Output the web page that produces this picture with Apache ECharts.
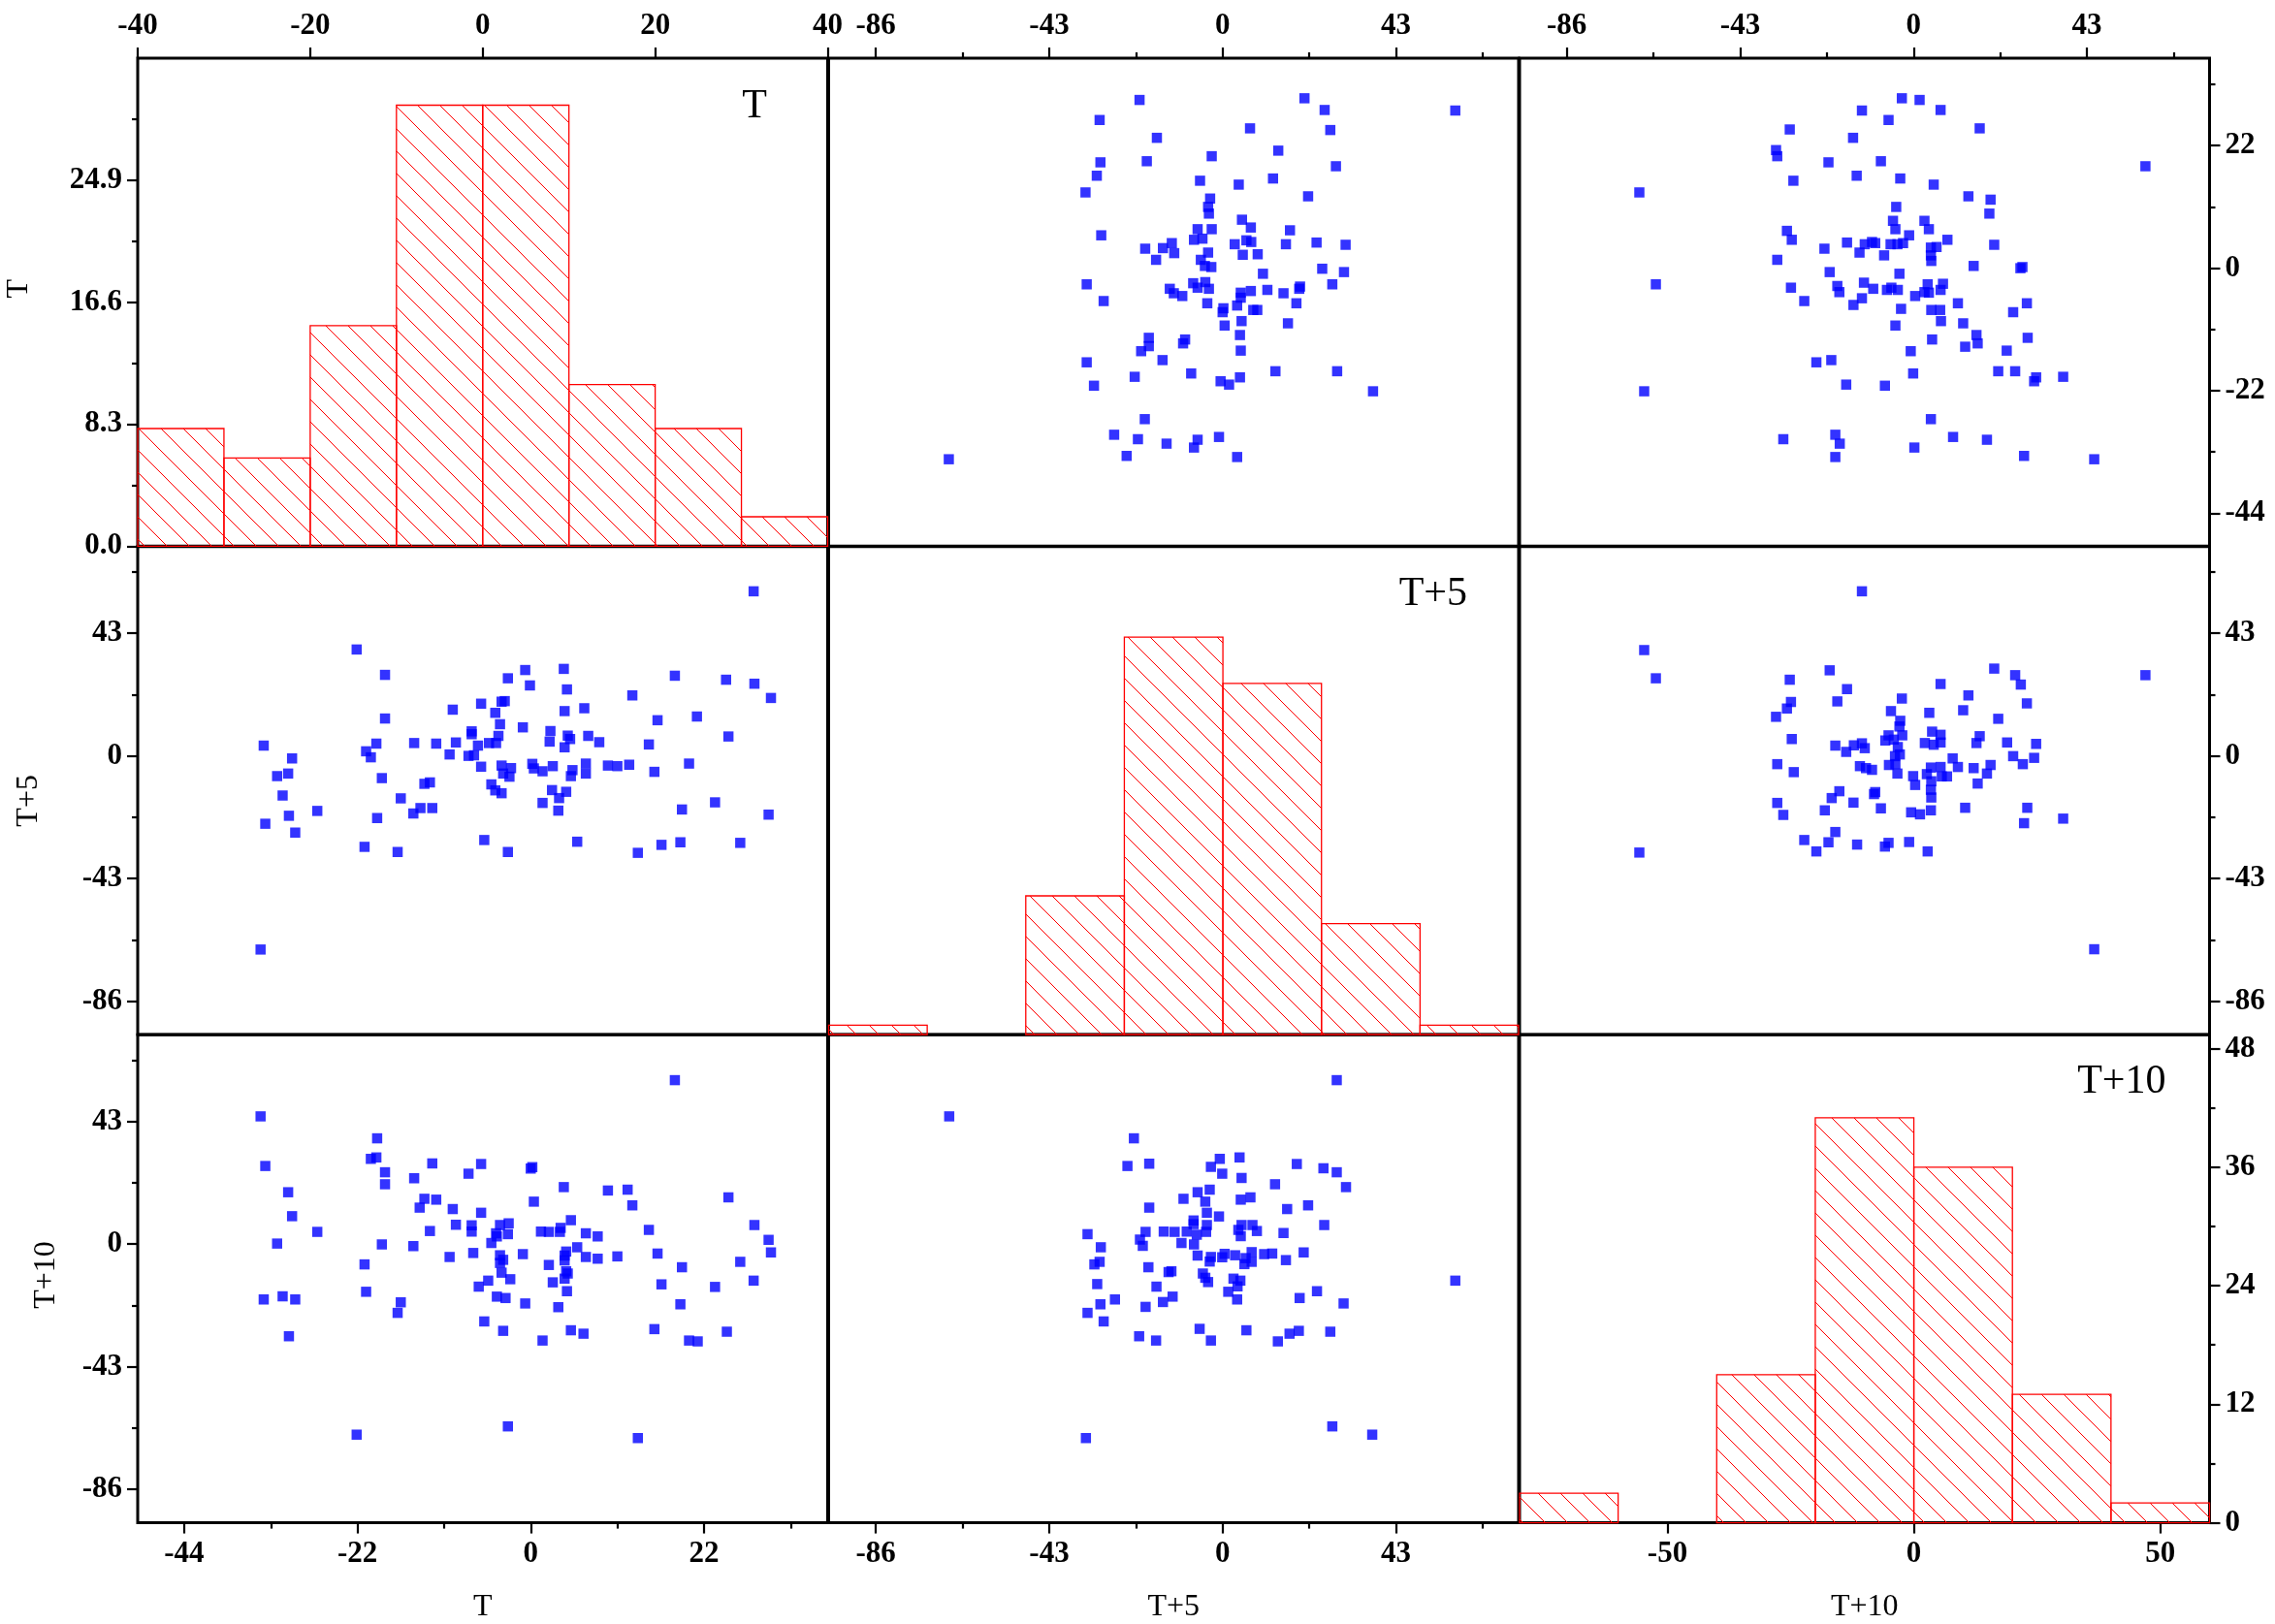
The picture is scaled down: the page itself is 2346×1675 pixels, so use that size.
<!DOCTYPE html>
<html>
<head>
<meta charset="utf-8">
<title>T / T+5 / T+10 scatter matrix</title>
<script src="https://cdn.jsdelivr.net/npm/echarts@6/dist/echarts.min.js"></script>
<style>
  html, body { margin: 0; padding: 0; background: #fff; }
  #main { width: 2346px; height: 1675px; }
</style>
</head>
<body>
<div id="main"></div>
<script>
var varNames = ['T', 'T+5', 'T+10'];

// histograms (bin edges + counts)
var binEdgesT = [-40, -30, -20, -10, 0, 10, 20, 30, 40];
var countsT = [8, 6, 15, 30, 30, 11, 8, 2];
var binEdgesT5 = [-80, -60, -40, -20, 0, 20, 40, 60];
var countsT5 = [1, 0, 15, 43, 38, 12, 1];
var binEdgesT10 = [-80, -60, -40, -20, 0, 20, 40, 60];
var countsT10 = [3, 0, 15, 41, 36, 13, 2];

// scatter pairs [x, y]
// x = T+5, y = T
var pairsT5T = [
  [-20.6,30.2],[20.3,30.5],[25.3,28.4],[57.7,28.3],[-30.5,26.6],[6.8,25.1],[26.7,24.8],[-16.3,23.4],
  [13.8,21.1],[-2.7,20.1],[-30.3,19.0],[-18.8,19.2],[28.1,18.3],[-31.2,16.6],[-5.6,15.7],[12.5,16.1],
  [4.0,15.0],[-34.0,13.6],[21.2,12.9],[-3.1,12.5],[-3.6,11.0],[-3.4,9.8],[4.8,8.7],[7.0,7.3],
  [-6.2,7.0],[-2.7,7.0],[16.7,6.8],[-30.1,5.9],[-7.1,5.1],[-5.0,5.3],[3.0,4.3],[5.9,5.0],
  [7.1,4.7],[15.7,4.3],[23.3,4.6],[30.5,4.2],[-12.6,4.5],[-19.2,3.5],[-14.8,3.6],[-12.0,2.7],
  [-3.6,2.8],[5.0,2.4],[8.7,2.5],[-16.5,1.5],[-5.4,1.5],[-4.4,0.4],[-2.8,0.2],[10.0,-1.0],
  [24.7,-0.1],[30.1,-0.7],[-33.7,-2.9],[27.2,-2.9],[-7.3,-2.7],[-4.3,-2.5],[-6.2,-3.5],[-3.4,-3.7],
  [-13.1,-3.7],[-12.1,-4.5],[-10.0,-5.0],[4.5,-4.4],[7.0,-4.1],[11.1,-3.9],[15.1,-4.5],[19.2,-3.3],
  [19.0,-3.7],[-29.5,-5.9],[-3.8,-6.3],[4.5,-5.3],[3.6,-6.7],[18.3,-6.3],[0.2,-7.2],[0.0,-7.9],
  [7.6,-7.5],[8.6,-7.5],[0.5,-10.3],[4.7,-9.5],[16.2,-9.9],[4.3,-12.0],[-18.3,-12.5],[-18.3,-14.0],
  [-9.3,-12.8],[-9.8,-13.5],[-20.2,-14.9],[4.5,-14.8],[-33.7,-16.9],[-14.9,-16.5],[-7.8,-18.9],[13.1,-18.5],
  [28.4,-18.5],[-21.8,-19.5],[-0.5,-20.3],[1.6,-20.9],[4.3,-19.6],[-31.9,-21.1],[37.3,-22.1],[-19.3,-27.1],
  [-26.9,-29.9],[-21.0,-30.7],[-13.9,-31.5],[-6.2,-30.8],[-7.1,-32.2],[-0.9,-30.3],[-23.8,-33.7],[3.6,-33.9],
  [-67.9,-34.3]
];
// x = T+10, y = T
var pairsT10T = [
  [-2.9,30.5],[1.5,30.2],[-12.8,28.3],[6.7,28.4],[-6.2,26.6],[-30.7,24.9],[16.4,25.1],[-15.0,23.4],
  [-34.1,21.2],[-33.8,20.1],[-21.1,19.0],[-8.1,19.2],[57.5,18.3],[-14.1,16.6],[-3.3,16.1],[5.0,15.0],
  [-29.8,15.7],[-68.0,13.6],[13.6,12.9],[19.1,12.3],[-4.3,11.0],[18.8,9.8],[-5.1,8.5],[2.7,8.5],
  [-4.5,7.0],[3.8,7.0],[-31.4,6.7],[-30.2,5.1],[-1.1,5.9],[8.4,5.1],[-16.5,4.6],[-12.1,4.3],
  [-10.3,4.7],[-9.5,4.5],[-5.7,4.3],[-4.0,4.3],[-2.6,4.5],[20.0,4.2],[-22.1,3.5],[-13.4,2.8],
  [-7.3,2.3],[4.3,3.7],[5.7,3.8],[4.3,2.3],[4.4,1.3],[-33.8,1.5],[14.9,0.4],[26.5,0.0],
  [27.0,0.2],[-20.8,-0.7],[-3.5,-1.0],[-63.9,-2.9],[-30.4,-3.5],[-18.9,-3.2],[-18.4,-4.3],[-12.3,-2.6],
  [-10.0,-3.7],[-6.6,-3.9],[-5.5,-3.5],[-3.9,-3.9],[3.5,-2.9],[2.7,-4.3],[3.8,-4.4],[7.3,-2.8],
  [6.7,-3.9],[0.4,-5.0],[-27.1,-5.9],[-12.8,-5.4],[-14.9,-6.6],[11.0,-6.3],[28.1,-6.3],[-3.1,-7.3],
  [4.4,-7.5],[6.6,-7.5],[24.7,-7.9],[6.8,-9.5],[12.3,-9.9],[-4.5,-10.3],[15.6,-12.0],[4.6,-12.8],
  [15.9,-13.5],[12.8,-14.1],[28.3,-12.5],[23.1,-14.8],[-0.7,-14.9],[-24.1,-16.9],[-20.4,-16.5],[-0.1,-18.9],
  [21.0,-18.5],[25.2,-18.5],[29.9,-20.3],[30.4,-19.6],[37.1,-19.5],[-16.7,-20.9],[-7.1,-21.1],[-66.8,-22.1],
  [4.3,-27.1],[-32.3,-30.7],[-19.4,-29.9],[-18.3,-31.5],[9.8,-30.3],[18.2,-30.8],[0.2,-32.2],[-19.4,-33.9],
  [27.4,-33.7],[44.8,-34.3]
];
// x = T+10, y = T+5
var pairsT10T5 = [
  [-12.8,57.7],[-66.8,37.1],[-63.9,27.2],[-20.8,30.0],[20.0,30.6],[-30.7,26.7],[25.2,28.3],[26.6,25.0],
  [57.5,28.3],[6.7,25.2],[-16.5,23.4],[13.6,21.2],[-2.9,20.1],[-30.4,18.9],[-18.9,19.1],[28.1,18.4],
  [-31.4,16.6],[-34.1,13.7],[-5.6,15.7],[3.9,15.1],[12.3,16.0],[21.0,13.0],[-3.3,12.3],[-3.5,10.3],
  [4.6,8.5],[6.7,7.4],[16.4,6.9],[-30.2,5.9],[-6.2,7.2],[-2.8,7.2],[-7.0,5.4],[-4.9,5.7],
  [2.8,4.5],[5.0,3.9],[6.7,4.7],[15.6,4.5],[23.2,4.7],[30.4,4.2],[-19.4,3.6],[-14.8,3.7],
  [-12.8,4.4],[-12.1,2.7],[-16.7,1.4],[-3.9,3.1],[-3.4,0.5],[-4.6,-0.1],[9.7,-0.9],[24.7,-0.1],
  [29.9,-0.7],[-33.8,-2.9],[-29.7,-5.7],[-13.3,-3.6],[-11.8,-4.3],[-10.3,-4.9],[-6.1,-3.2],[-4.5,-2.9],
  [-4.0,-6.2],[4.3,-4.1],[6.7,-3.9],[11.0,-3.9],[14.9,-4.3],[19.1,-3.2],[27.1,-2.9],[-0.1,-7.1],
  [3.3,-6.4],[7.0,-7.2],[8.3,-7.2],[18.2,-6.2],[0.4,-10.2],[4.4,-8.9],[4.3,-11.9],[15.9,-9.7],
  [-18.4,-12.4],[-20.3,-14.8],[-9.5,-12.7],[-9.8,-13.4],[4.4,-14.6],[-33.8,-16.5],[-14.9,-16.4],[-22.0,-19.1],
  [-8.1,-18.4],[-0.6,-19.8],[1.6,-20.5],[4.3,-19.1],[12.8,-18.2],[28.2,-18.2],[-32.3,-20.7],[37.1,-22.0],
  [27.4,-23.6],[-19.4,-26.7],[-27.1,-29.5],[-21.1,-30.3],[-14.0,-31.1],[-6.2,-30.5],[-7.1,-31.8],[-1.1,-30.2],
  [-24.1,-33.5],[3.5,-33.5],[-68.0,-33.9],[44.8,-67.8]
];

// tick values
var ticksT = [-44, -22, 0, 22];
var minorTicksT = [-33, -11, 11, 33];
var ticksLag = [-86, -43, 0, 43];
var minorTicksLag = [-64.5, -21.5, 21.5, 64.5];
var ticksHistTx = [-40, -20, 0, 20, 40];
var ticksHistTy = [0, 8.3, 16.6, 24.9];
var minorTicksHistTy = [4.15, 12.45, 20.75, 29.05];
var ticksHistLagX = [-50, 0, 50];
var ticksHistT10y = [0, 12, 24, 36, 48];
var minorTicksHistT10y = [6, 18, 30, 42];

var FONT = '"Liberation Serif", "Times New Roman", serif';
var colLeft = [142, 854.5, 1567], colW = 711.5;
var rowTop = [60, 563.7, 1067.3], rowH = 503.3;

// axis ranges
var scatterScale = [
  { min: -49.9, max: 37.7, major: ticksT, minor: minorTicksT },
  { min: -97.7, max: 73.4, major: ticksLag, minor: minorTicksLag },
  { min: -97.7, max: 73.4, major: ticksLag, minor: minorTicksLag }
];
var histXScale = [
  { min: -40, max: 40, major: ticksHistTx },
  { min: -80, max: 60, major: ticksHistLagX },
  { min: -80, max: 60, major: ticksHistLagX }
];
var histYScale = [
  { min: 0, max: 33.2, major: ticksHistTy, minor: minorTicksHistTy, fmt: function (v) { return v.toFixed(1); } },
  { min: 0, max: 52.8, major: [], minor: [] },
  { min: 0, max: 49.4, major: ticksHistT10y, minor: minorTicksHistT10y }
];
var hists = [
  { edges: binEdgesT, counts: countsT },
  { edges: binEdgesT5, counts: countsT5 },
  { edges: binEdgesT10, counts: countsT10 }
];

// hatch pattern for the histogram bars
var hatch = document.createElement('canvas');
hatch.width = 23; hatch.height = 23;
(function () {
  var ctx = hatch.getContext('2d');
  ctx.strokeStyle = '#ff0000';
  ctx.lineWidth = 1;
  ctx.beginPath();
  ctx.moveTo(-2, -2);
  ctx.lineTo(25, 25);
  ctx.stroke();
})();

var margins = { top: 18, bottom: 17, left: 16, right: 16 };
// left axis titles: gap from frame and a small nudge along the axis
var leftNameGap = [106, 96, 78];
var leftNamePad = [[0, 0, 0, 28], [0, 21, 0, 0], [0, 0, 0, 8]];

var grids = [], xAxes = [], yAxes = [], series = [];

function addAxis(list, gridIndex, position, spec, show, name, nameGap, namePad) {
  var ax = {
    type: 'value', gridIndex: gridIndex, position: position,
    min: spec.min, max: spec.max,
    axisLine: { show: false, onZero: false },
    splitLine: { show: false },
    axisTick: { show: show, customValues: spec.major, length: 11, lineStyle: { color: '#000', width: 2.2 } },
    axisLabel: {
      show: show, customValues: spec.major, margin: margins[position],
      formatter: spec.fmt || function (v) { return String(v); },
      fontFamily: FONT, fontSize: 31, fontWeight: 'bold', color: '#000'
    }
  };
  if (name) {
    ax.name = name;
    ax.nameLocation = 'middle';
    ax.nameGap = nameGap;
    ax.nameTextStyle = { fontFamily: FONT, fontSize: 32, color: '#000', padding: namePad || 0 };
  }
  list.push(ax);
  var idx = list.length - 1;
  if (show && spec.minor && spec.minor.length) {
    list.push({
      type: 'value', gridIndex: gridIndex, position: position,
      min: spec.min, max: spec.max,
      axisLine: { show: false, onZero: false },
      splitLine: { show: false },
      axisLabel: { show: false },
      axisTick: { show: true, customValues: spec.minor, length: 6, lineStyle: { color: '#000', width: 2.2 } }
    });
  }
  return idx;
}

function swap(pairs) {
  return pairs.map(function (p) { return [p[1], p[0]]; });
}

function pairsFor(r, c) {
  if (r === 0 && c === 1) return pairsT5T;
  if (r === 0 && c === 2) return pairsT10T;
  if (r === 1 && c === 2) return pairsT10T5;
  if (r === 1 && c === 0) return swap(pairsT5T);
  if (r === 2 && c === 0) return swap(pairsT10T);
  return swap(pairsT10T5);
}

function renderBin(params, api) {
  var c = api.value(2);
  if (!c) return null;
  var p0 = api.coord([api.value(0), c]);
  var p1 = api.coord([api.value(1), 0]);
  return {
    type: 'rect',
    shape: { x: p0[0], y: p0[1], width: p1[0] - p0[0], height: p1[1] - p0[1] },
    style: { fill: { image: hatch, repeat: 'repeat' }, stroke: '#ff0000', lineWidth: 1.3 }
  };
}

for (var r = 0; r < 3; r++) {
  for (var c = 0; c < 3; c++) {
    var gi = grids.length;
    grids.push({
      left: colLeft[c], top: rowTop[r], width: colW, height: rowH,
      show: true, borderColor: '#000', borderWidth: 3, backgroundColor: 'transparent',
      containLabel: false, outerBoundsMode: 'none'
    });
    var xPos = r === 0 ? 'top' : 'bottom';
    var xShow = r !== 1;
    var yPos = c === 2 ? 'right' : 'left';
    var yShow = c !== 1;
    var xSpec = r === c ? histXScale[c] : scatterScale[c];
    var ySpec = r === c ? histYScale[r] : scatterScale[r];
    var xi = addAxis(xAxes, gi, xPos, xSpec, xShow, r === 2 ? varNames[c] : null, 71);
    var yi = addAxis(yAxes, gi, yPos, ySpec, yShow, c === 0 ? varNames[r] : null, leftNameGap[r], leftNamePad[r]);

    if (r === c) {
      var h = hists[r];
      series.push({
        type: 'custom', xAxisIndex: xi, yAxisIndex: yi,
        renderItem: renderBin,
        encode: { x: [0, 1], y: 2 },
        data: h.counts.map(function (n, i) { return [h.edges[i], h.edges[i + 1], n]; })
      });
    } else {
      series.push({
        type: 'scatter', xAxisIndex: xi, yAxisIndex: yi,
        symbol: 'rect', symbolSize: 10.5,
        itemStyle: { color: '#0000ff' },
        data: pairsFor(r, c)
      });
    }
  }
}

function panelLabel(text, x, y) {
  return {
    type: 'text', x: x, y: y,
    style: {
      text: text, fontFamily: FONT, fontSize: 42, fill: '#000',
      textAlign: 'right', textVerticalAlign: 'middle', align: 'right', verticalAlign: 'middle'
    }
  };
}

var dom = document.getElementById('main');
var myChart = echarts.init(dom, null, { renderer: 'canvas' });

var option = {
  backgroundColor: '#fff',
  animation: false,
  grid: grids,
  xAxis: xAxes,
  yAxis: yAxes,
  series: series,
  graphic: [
    panelLabel(varNames[0], 791, 109.5),
    panelLabel(varNames[1], 1513, 612.5),
    panelLabel(varNames[2], 2233.5, 1115.8)
  ]
};

myChart.setOption(option);
window.addEventListener('resize', myChart.resize);
</script>
</body>
</html>
